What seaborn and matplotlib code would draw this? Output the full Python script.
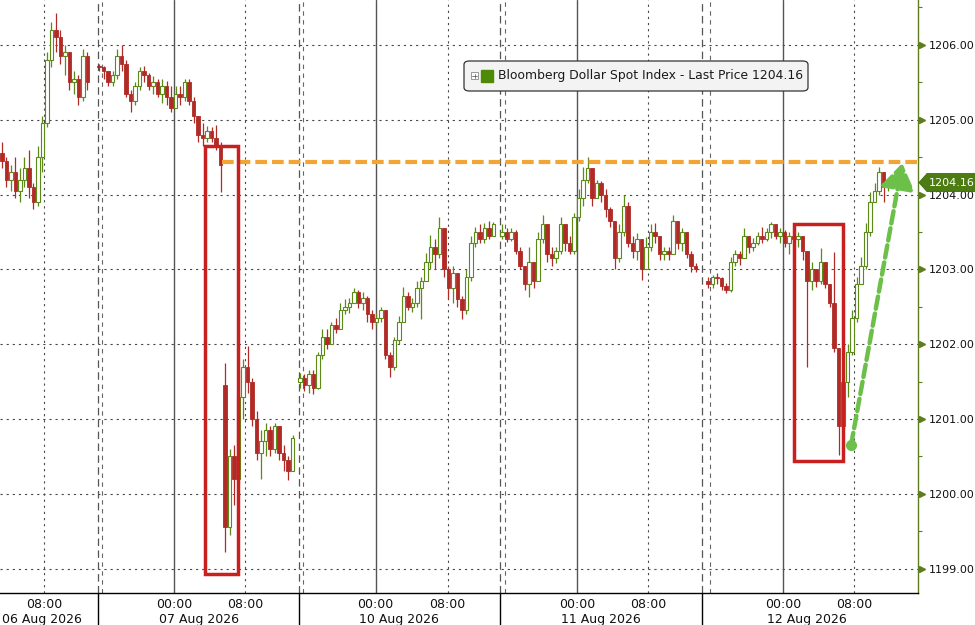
"""
Bloomberg Dollar Spot Index, intraday candles 06-12 Aug 2026.
x axis is 'chart hours' (trading time with the session breaks squeezed out).
"""
import numpy as np
import matplotlib
matplotlib.use("Agg")
import matplotlib.pyplot as plt
import matplotlib.patches as mpatches
import matplotlib.transforms as mtransforms
import seaborn as sns

# ---- 30-min OHLC bars, one block per session ----
s1_open = [1204.55, 1204.45, 1204.2, 1204.3, 1204.05, 1204.2, 1204.35, 1204.1, 1203.9, 1204.5,
           1204.95, 1205.8, 1206.2, 1206.1, 1205.85, 1205.9, 1205.5, 1205.55, 1205.3, 1205.85]
s1_high = [1204.7, 1204.5, 1204.4, 1204.5, 1204.35, 1204.5, 1204.6, 1204.15, 1204.65, 1205.05,
           1205.9, 1206.3, 1206.43, 1206.2, 1206.0, 1205.9, 1205.65, 1205.6, 1205.95, 1205.9]
s1_low = [1204.35, 1204.1, 1204.05, 1203.95, 1203.9, 1204.1, 1203.95, 1203.8, 1203.85, 1204.3,
          1204.9, 1205.7, 1205.9, 1205.75, 1205.6, 1205.4, 1205.35, 1205.2, 1205.25, 1205.4]
s1_close = [1204.45, 1204.2, 1204.3, 1204.05, 1204.2, 1204.35, 1204.1, 1203.9, 1204.5, 1204.95,
            1205.8, 1206.2, 1206.1, 1205.85, 1205.9, 1205.5, 1205.55, 1205.3, 1205.85, 1205.5]

s2_open = [1205.72, 1205.7, 1205.65, 1205.5, 1205.6, 1205.85, 1205.75, 1205.35, 1205.25, 1205.45,
           1205.65, 1205.6, 1205.45, 1205.5, 1205.35, 1205.45, 1205.3, 1205.15, 1205.35, 1205.3,
           1205.5, 1205.25, 1205.05, 1204.8, 1204.75, 1204.85, 1204.75, 1204.65, 1201.45, 1199.55,
           1200.5, 1200.2, 1201.3, 1201.7, 1201.5, 1201.0, 1200.55, 1200.7, 1200.85, 1200.6,
           1200.9, 1200.55, 1200.45, 1200.3]
s2_high = [1205.75, 1205.72, 1205.65, 1205.65, 1205.95, 1206.0, 1205.8, 1205.4, 1205.5, 1205.7,
           1205.72, 1205.62, 1205.58, 1205.55, 1205.55, 1205.52, 1205.45, 1205.45, 1205.45, 1205.55,
           1205.55, 1205.3, 1205.05, 1204.95, 1204.92, 1204.9, 1204.93, 1204.7, 1201.75, 1200.6,
           1200.65, 1201.65, 1201.8, 1201.98, 1201.55, 1201.1, 1200.85, 1200.95, 1200.9, 1200.95,
           1200.9, 1200.65, 1200.5, 1200.78]
s2_low = [1205.65, 1205.55, 1205.45, 1205.45, 1205.55, 1205.65, 1205.3, 1205.1, 1205.2, 1205.4,
          1205.5, 1205.4, 1205.35, 1205.3, 1205.22, 1205.2, 1205.1, 1205.15, 1205.2, 1205.25,
          1205.2, 1204.95, 1204.7, 1204.65, 1204.7, 1204.7, 1204.6, 1204.03, 1199.22, 1199.45,
          1199.85, 1200.15, 1201.0, 1201.35, 1200.9, 1200.45, 1200.2, 1200.5, 1200.5, 1200.55,
          1200.45, 1200.3, 1200.18, 1200.3]
s2_close = [1205.7, 1205.65, 1205.5, 1205.6, 1205.85, 1205.75, 1205.35, 1205.25, 1205.45, 1205.65,
            1205.6, 1205.45, 1205.5, 1205.35, 1205.45, 1205.3, 1205.15, 1205.35, 1205.3, 1205.5,
            1205.25, 1205.05, 1204.8, 1204.75, 1204.85, 1204.75, 1204.65, 1204.4, 1199.55, 1200.5,
            1200.2, 1201.3, 1201.7, 1201.5, 1201.0, 1200.55, 1200.7, 1200.85, 1200.6, 1200.9,
            1200.55, 1200.45, 1200.3, 1200.75]

s3_open = [1201.5, 1201.55, 1201.45, 1201.6, 1201.42, 1201.85, 1202.1, 1202.0, 1202.25, 1202.2,
           1202.45, 1202.5, 1202.55, 1202.7, 1202.55, 1202.62, 1202.4, 1202.3, 1202.35, 1202.45,
           1201.85, 1201.7, 1202.05, 1202.3, 1202.65, 1202.5, 1202.55, 1202.75, 1202.85, 1203.1,
           1203.3, 1203.2, 1203.55, 1203.0, 1202.75, 1202.95, 1202.6, 1202.45, 1202.9, 1203.35,
           1203.5, 1203.4, 1203.55, 1203.45]
s3_high = [1201.62, 1201.6, 1201.65, 1201.65, 1201.9, 1202.2, 1202.2, 1202.3, 1202.35, 1202.55,
           1202.6, 1202.62, 1202.75, 1202.72, 1202.7, 1202.65, 1202.45, 1202.42, 1202.5, 1202.45,
           1201.9, 1202.1, 1202.38, 1202.77, 1202.7, 1202.62, 1202.85, 1202.9, 1203.22, 1203.46,
           1203.4, 1203.7, 1203.55, 1203.05, 1203.05, 1202.95, 1202.65, 1203.0, 1203.45, 1203.57,
           1203.6, 1203.62, 1203.65, 1203.63]
s3_low = [1201.42, 1201.38, 1201.35, 1201.33, 1201.4, 1201.8, 1201.93, 1202.0, 1202.15, 1202.2,
          1202.4, 1202.42, 1202.55, 1202.48, 1202.45, 1202.3, 1202.2, 1202.25, 1202.3, 1201.8,
          1201.56, 1201.65, 1202.0, 1202.3, 1202.45, 1202.43, 1202.5, 1202.33, 1202.85, 1203.0,
          1203.0, 1203.15, 1202.9, 1202.6, 1202.55, 1202.5, 1202.33, 1202.4, 1202.85, 1203.3,
          1203.35, 1203.35, 1203.4, 1203.45]
s3_close = [1201.55, 1201.45, 1201.6, 1201.42, 1201.85, 1202.1, 1202.0, 1202.25, 1202.2, 1202.45,
            1202.5, 1202.55, 1202.7, 1202.55, 1202.62, 1202.4, 1202.3, 1202.35, 1202.45, 1201.85,
            1201.7, 1202.05, 1202.3, 1202.65, 1202.5, 1202.55, 1202.75, 1202.85, 1203.1, 1203.3,
            1203.2, 1203.55, 1203.0, 1202.75, 1202.95, 1202.6, 1202.45, 1202.9, 1203.35, 1203.5,
            1203.4, 1203.55, 1203.45, 1203.6]

s4_open = [1203.45, 1203.5, 1203.4, 1203.5, 1203.25, 1203.05, 1202.8, 1203.1, 1202.85, 1203.4,
           1203.6, 1203.2, 1203.15, 1203.25, 1203.6, 1203.35, 1203.25, 1203.7, 1203.95, 1204.2,
           1204.35, 1203.95, 1204.15, 1204.0, 1203.8, 1203.65, 1203.15, 1203.5, 1203.85, 1203.35,
           1203.25, 1203.4, 1203.0, 1203.3, 1203.5, 1203.45, 1203.2, 1203.25, 1203.2, 1203.65,
           1203.35, 1203.5, 1203.2, 1203.05]
s4_high = [1203.6, 1203.55, 1203.55, 1203.52, 1203.3, 1203.05, 1203.3, 1203.1, 1203.5, 1203.72,
           1203.6, 1203.3, 1203.3, 1203.7, 1203.6, 1203.45, 1203.75, 1204.07, 1204.37, 1204.5,
           1204.35, 1204.2, 1204.18, 1204.07, 1203.83, 1203.65, 1203.6, 1204.0, 1203.9, 1203.45,
           1203.48, 1203.4, 1203.43, 1203.6, 1203.62, 1203.45, 1203.3, 1203.3, 1203.72, 1203.65,
           1203.55, 1203.5, 1203.25, 1203.08]
s4_low = [1203.4, 1203.37, 1203.38, 1203.2, 1203.0, 1202.72, 1202.63, 1202.75, 1202.85, 1203.35,
          1203.1, 1203.05, 1203.08, 1203.2, 1203.25, 1203.2, 1203.2, 1203.65, 1203.85, 1204.15,
          1203.85, 1203.95, 1203.9, 1203.7, 1203.57, 1203.0, 1203.1, 1203.45, 1203.3, 1203.15,
          1203.13, 1202.86, 1203.0, 1203.25, 1203.35, 1203.13, 1203.13, 1203.12, 1203.2, 1203.27,
          1203.25, 1203.15, 1202.97, 1202.97]
s4_close = [1203.5, 1203.4, 1203.5, 1203.25, 1203.05, 1202.8, 1203.1, 1202.85, 1203.4, 1203.6,
            1203.2, 1203.15, 1203.25, 1203.6, 1203.35, 1203.25, 1203.7, 1203.95, 1204.2, 1204.35,
            1203.95, 1204.15, 1204.0, 1203.8, 1203.65, 1203.15, 1203.5, 1203.85, 1203.35, 1203.25,
            1203.4, 1203.0, 1203.3, 1203.5, 1203.45, 1203.2, 1203.25, 1203.2, 1203.65, 1203.35,
            1203.5, 1203.2, 1203.05, 1203.0]

s5_open = [1202.85, 1202.8, 1202.9, 1202.88, 1202.78, 1202.72, 1203.1, 1203.2, 1203.15, 1203.45,
           1203.3, 1203.35, 1203.45, 1203.4, 1203.5, 1203.6, 1203.45, 1203.5, 1203.35, 1203.45,
           1203.4, 1203.45, 1203.25, 1202.85, 1203.0, 1202.85, 1203.1, 1202.8, 1202.55, 1201.95,
           1200.9, 1201.5, 1201.9, 1202.35, 1202.8, 1203.05, 1203.5, 1203.9, 1204.05, 1204.3,
           1204.1]
s5_high = [1202.9, 1202.93, 1202.95, 1202.9, 1202.82, 1203.17, 1203.26, 1203.25, 1203.55, 1203.45,
           1203.42, 1203.5, 1203.57, 1203.55, 1203.63, 1203.6, 1203.55, 1203.52, 1203.5, 1203.55,
           1203.5, 1203.45, 1203.25, 1203.1, 1203.0, 1203.28, 1203.1, 1202.8, 1203.23, 1201.95,
           1201.75, 1202.0, 1202.46, 1202.9, 1203.17, 1203.62, 1204.04, 1204.16, 1204.37, 1204.3,
           1204.2]
s5_low = [1202.75, 1202.75, 1202.8, 1202.72, 1202.68, 1202.7, 1203.05, 1203.06, 1203.15, 1203.22,
          1203.25, 1203.33, 1203.35, 1203.38, 1203.42, 1203.4, 1203.35, 1203.3, 1203.2, 1203.35,
          1203.3, 1203.13, 1201.7, 1202.72, 1202.77, 1202.8, 1202.75, 1202.5, 1201.9, 1200.52,
          1200.8, 1201.3, 1201.85, 1202.3, 1202.8, 1203.0, 1203.45, 1203.9, 1204.0, 1203.9,
          1204.05]
s5_close = [1202.8, 1202.9, 1202.88, 1202.78, 1202.72, 1203.1, 1203.2, 1203.15, 1203.45, 1203.3,
            1203.35, 1203.45, 1203.4, 1203.5, 1203.6, 1203.45, 1203.5, 1203.35, 1203.45, 1203.4,
            1203.45, 1203.25, 1202.85, 1203.0, 1202.85, 1203.1, 1202.8, 1202.55, 1201.95, 1200.9,
            1201.5, 1201.9, 1202.35, 1202.8, 1203.05, 1203.5, 1203.9, 1204.05, 1204.3, 1204.1,
            1204.16]

session_start = [0.22, 11.0, 33.33, 55.78, 78.67]   # chart-hour of each session's first bar
bar_step = 0.5

last_price = 1204.16
resistance = 1204.43          # the pre-drop level marked with the orange line
legend_label = "Bloomberg Dollar Spot Index - Last Price 1204.16"

# axis furniture
y_major = [1199, 1200, 1201, 1202, 1203, 1204, 1205, 1206]
midnights = [19.37, 41.74, 64.14, 87.03]
mornings = [4.92, 27.22, 49.74, 72.03, 94.92]
breaks = [10.86, 33.22, 55.61, 78.03]
breaks_b = [11.37, 33.72, 56.06, 78.89]
time_ticks = sorted(mornings + midnights)
time_labels = ["08:00" if t in mornings else "00:00" for t in time_ticks]
day_label_pos = [4.7, 22.1, 44.3, 66.8, 89.6]
day_labels = ["06 Aug 2026", "07 Aug 2026", "10 Aug 2026", "11 Aug 2026", "12 Aug 2026"]

UP = "#5b8a16"
DOWN = "#b02a26"
AXIS_GREEN = "#5d7d1e"
GRID = "#4a4a4a"
YLIM = (1198.674, 1206.60)

sns.set_theme(style="white")
plt.rcParams["font.family"] = ["DejaVu Sans"]

fig = plt.figure(figsize=(9.75, 6.25), dpi=100)
ax = fig.add_axes([0, 32 / 625, 918 / 975, 593 / 625])
AX_W, AX_H = 918.0, 593.0


def draw_session(start, o, h, l, c):
    o, h, l, c = (np.asarray(v, dtype=float) for v in (o, h, l, c))
    assert len(o) == len(h) == len(l) == len(c)
    x = start + bar_step * np.arange(len(c))
    hi = np.maximum(h, np.maximum(o, c))
    lo = np.minimum(l, np.minimum(o, c))
    up = c >= o
    bottom = np.minimum(o, c)
    body = np.maximum(np.abs(c - o), 0.015)
    ax.vlines(x[up], lo[up], hi[up], color=UP, lw=0.9, zorder=3)
    ax.vlines(x[~up], lo[~up], hi[~up], color=DOWN, lw=0.9, zorder=3)
    ax.bar(x[up], body[up], bottom=bottom[up], width=0.38, facecolor="white",
           edgecolor=UP, linewidth=0.8, zorder=4)
    ax.bar(x[~up], body[~up], bottom=bottom[~up], width=0.38, facecolor=DOWN,
           edgecolor=DOWN, linewidth=0.6, zorder=4)


sessions = [
    (s1_open, s1_high, s1_low, s1_close),
    (s2_open, s2_high, s2_low, s2_close),
    (s3_open, s3_high, s3_low, s3_close),
    (s4_open, s4_high, s4_low, s4_close),
    (s5_open, s5_high, s5_low, s5_close),
]
for start, ohlc in zip(session_start, sessions):
    draw_session(start, *ohlc)

# grid: dotted price levels, dotted 08:00, solid midnight, dashed session breaks
for y in y_major:
    ax.axhline(y, color=GRID, lw=0.8, ls=(0, (2, 3.5)), zorder=1)
for t in mornings:
    ax.axvline(t, color=GRID, lw=0.8, ls=(0, (2, 3.5)), zorder=1)
for t in midnights:
    ax.axvline(t, color="#555555", lw=1.0, zorder=1)
for t in breaks:
    ax.axvline(t, color="#555555", lw=0.9, ls=(0, (6, 3.5)), zorder=1)
for t in breaks_b:
    ax.axvline(t, color="#666666", lw=0.8, ls=(0, (4, 4)), zorder=1)

# spines / axes
for side in ["top", "left"]:
    ax.spines[side].set_visible(False)
ax.spines["right"].set_color(AXIS_GREEN)
ax.spines["right"].set_linewidth(1.0)
ax.spines["bottom"].set_color("black")
ax.spines["bottom"].set_linewidth(1.0)

ax.yaxis.tick_right()
ax.set_yticks(y_major)
ax.set_yticklabels([f"{v:.2f}" for v in y_major])
ax.set_yticks(np.arange(1199.5, 1206.6, 1.0), minor=True)
ax.tick_params(axis="y", which="major", length=0, pad=7.8, labelsize=8, labelcolor="#111111")
ax.tick_params(axis="y", which="minor", length=3, width=0.8, color=AXIS_GREEN, direction="out")

minor_x = [d + 4 * k for d in [midnights[0] - 22.4] + midnights for k in range(-2, 4)]
minor_x = [t for t in minor_x if 0 < t < 101]
ax.set_xticks(minor_x)
ax.set_xticklabels([])
ax.tick_params(axis="x", which="major", length=3, width=0.8, color="black", direction="in")

# limits last, so the tick setters cannot widen them
ax.set_xlim(0, 102)
ax.set_ylim(*YLIM)

# arrow-shaped major ticks on the price axis
tri = mtransforms.offset_copy(ax.get_yaxis_transform(), fig=fig, x=3.5, y=0, units="dots")
ax.plot([1.0] * len(y_major), y_major, ls="none", marker=">", ms=5, color=AXIS_GREEN,
        transform=tri, clip_on=False, zorder=5)

# two-row time axis
xt = ax.get_xaxis_transform()
for t, lab in zip(time_ticks, time_labels):
    ax.text(t, -11 / AX_H, lab, transform=xt, ha="center", va="center", fontsize=9, color="#111111")
for t, lab in zip(day_label_pos, day_labels):
    ax.text(t, -26.5 / AX_H, lab, transform=xt, ha="center", va="center", fontsize=9, color="#111111")
ax.vlines(breaks, -0.06, 0, transform=xt, color="black", lw=1.0, clip_on=False)

# orange dashed level line
ax.hlines(resistance, 24.67, 102, color="#f2a535", lw=3.0, ls=(0, (2.8, 1.2)), zorder=6)

# red boxes around the two sell-offs
box_style = dict(fill=False, edgecolor="#c8201f", linewidth=2.5, zorder=7)
ax.add_patch(mpatches.Rectangle((22.78, 1198.93), 3.66, 1204.65 - 1198.93, **box_style))
ax.add_patch(mpatches.Rectangle((88.22, 1200.44), 5.45, 1203.61 - 1200.44, **box_style))

# green dashed recovery arrow
arrow_start = (94.56, 1200.65)
arrow_tip = (100.25, 1204.42)
ax.annotate("", xy=arrow_tip, xytext=arrow_start,
            arrowprops=dict(arrowstyle="-|>,head_length=0.9,head_width=0.6", color="#6cc04a",
                            lw=3.2, linestyle=(0, (2.8, 1.1)), shrinkA=0, shrinkB=0,
                            mutation_scale=17),
            zorder=8)
ax.plot(*arrow_start, marker="o", ms=7, color="#6cc04a", zorder=8)

# last price tag on the axis
yt = ax.get_yaxis_transform()
hh = 9 * (YLIM[1] - YLIM[0]) / AX_H
tag = mpatches.Polygon([(1 + 1 / AX_W, last_price), (1 + 9 / AX_W, last_price + hh),
                        (1 + 60 / AX_W, last_price + hh), (1 + 60 / AX_W, last_price - hh),
                        (1 + 9 / AX_W, last_price - hh)],
                       closed=True, transform=yt, facecolor="#4d7c12", edgecolor="#3f6a0c",
                       lw=0.6, clip_on=False, zorder=9)
ax.add_patch(tag)
ax.text(1 + 11 / AX_W, last_price, f"{last_price:.2f}", transform=yt, ha="left", va="center",
        fontsize=8, color="white", clip_on=False, zorder=10)

# legend box
ta = ax.transAxes
ax.add_patch(mpatches.FancyBboxPatch((464 / AX_W, 1 - 91 / AX_H), 344 / AX_W, 30 / AX_H,
                                     boxstyle="round,pad=0,rounding_size=0.006",
                                     transform=ta, facecolor="#f3f3f3", edgecolor="#333333",
                                     lw=0.9, zorder=9))
ax.add_patch(mpatches.Rectangle((471 / AX_W, 1 - 79 / AX_H), 7 / AX_W, 7 / AX_H, transform=ta,
                                facecolor="white", edgecolor="#888888", lw=0.6, zorder=10))
ax.plot([472.5 / AX_W, 476.5 / AX_W], [1 - 75.5 / AX_H] * 2, color="#666666", lw=0.6,
        transform=ta, zorder=11)
ax.plot([474.5 / AX_W] * 2, [1 - 77.5 / AX_H, 1 - 73.5 / AX_H], color="#666666", lw=0.6,
        transform=ta, zorder=11)
ax.add_patch(mpatches.Rectangle((481 / AX_W, 1 - 82 / AX_H), 12 / AX_W, 12 / AX_H, transform=ta,
                                facecolor="#4f8a06", edgecolor="#4f8a06", zorder=10))
ax.text(498 / AX_W, 1 - 76 / AX_H, legend_label, transform=ta, ha="left", va="center",
        fontsize=8.9, color="#1a1a1a", zorder=11)

fig.savefig("out.png", dpi=100, facecolor="white")
